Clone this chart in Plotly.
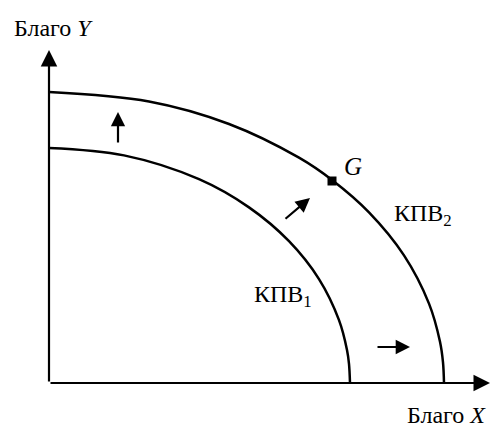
import plotly.graph_objects as go

# Curves (x, y in chart units; origin at axes corner)
ppf1_x = [0, 75, 150, 200, 240, 270, 290, 298, 300, 301]
ppf1_y = [235, 227.6, 203.8, 175.6, 141.8, 103.9, 62.9, 33.1, 19.1, 0]
ppf2_x = [0, 100, 180, 250, 283, 320, 355, 380, 391, 394, 395]
ppf2_y = [291, 281.5, 259.0, 225.3, 203.0, 170.6, 127.6, 79.4, 41.3, 20.7, 0]
point_g = (283, 202)
axis_x_len = 441
axis_y_len = 333
# shift arrows: (x0, y0) -> (x1, y1)
shift_arrows = [((69, 239), (69, 271)), ((235, 163), (261, 185)), ((327, 36), (361, 36))]

FONT = "Liberation Serif"
fig = go.Figure()
fig.add_trace(go.Scatter(x=ppf1_x, y=ppf1_y, mode="lines", line=dict(color="black", width=2.5, shape="spline"), hoverinfo="skip"))
fig.add_trace(go.Scatter(x=ppf2_x, y=ppf2_y, mode="lines", line=dict(color="black", width=2.5, shape="spline"), hoverinfo="skip"))
fig.add_trace(go.Scatter(x=[point_g[0]], y=[point_g[1]], mode="markers", marker=dict(color="black", size=9, symbol="square"), hoverinfo="skip"))

# axes with arrows
fig.add_annotation(x=0, y=axis_y_len, ax=0, ay=0, xref="x", yref="y", axref="x", ayref="y",
                   showarrow=True, arrowhead=2, arrowsize=1.5, arrowwidth=2.2, arrowcolor="black", text="")
fig.add_annotation(x=axis_x_len, y=0, ax=0, ay=0, xref="x", yref="y", axref="x", ayref="y",
                   showarrow=True, arrowhead=2, arrowsize=1.5, arrowwidth=2.2, arrowcolor="black", text="")
for (x0, y0), (x1, y1) in shift_arrows:
    fig.add_annotation(x=x1, y=y1, ax=x0, ay=y0, xref="x", yref="y", axref="x", ayref="y",
                       showarrow=True, arrowhead=2, arrowsize=1.3, arrowwidth=2.2, arrowcolor="black", text="")

tf = dict(family=FONT, size=24, color="black")
fig.add_annotation(x=-37, y=355, text="Благо <i>Y</i>", showarrow=False, xanchor="left", yanchor="middle", font=tf)
fig.add_annotation(x=439, y=-32, text="Благо <i>X</i>", showarrow=False, xanchor="right", yanchor="middle", font=tf)
fig.add_annotation(x=203, y=87, text="КПВ<sub>1</sub>", showarrow=False, xanchor="left", yanchor="middle", font=tf)
fig.add_annotation(x=343, y=168, text="КПВ<sub>2</sub>", showarrow=False, xanchor="left", yanchor="middle", font=tf)
fig.add_annotation(x=304, y=217, text="<i>G</i>", showarrow=False, xanchor="center", yanchor="middle", font=dict(family=FONT, size=25, color="black"))

fig.update_layout(width=493, height=430, autosize=False, margin=dict(l=0, r=0, t=0, b=0),
                  paper_bgcolor="white", plot_bgcolor="white", showlegend=False,
                  xaxis=dict(range=[-49, 444], visible=False, fixedrange=True),
                  yaxis=dict(range=[-47, 383], visible=False, fixedrange=True))
fig.write_html("out.html", config={"displayModeBar": False},
               post_script="document.body.style.margin='0';")
